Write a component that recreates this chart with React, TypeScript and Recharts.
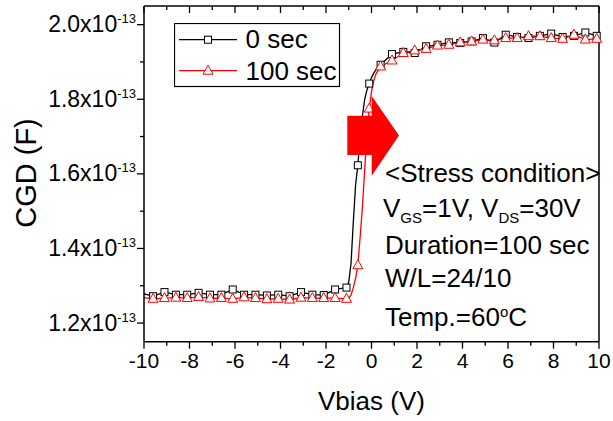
import { LineChart, Line, XAxis, YAxis, Legend } from 'recharts'

const FONT = '"Liberation Sans", Arial, sans-serif'

// Vbias (V); markers sit on the -9.6 + 0.5k grid, the rest only shape the line
const vbias = [
  -10, -9.6, -9.1, -8.6, -8.1, -7.6, -7.1, -6.6, -6.1, -5.6, -5.1, -4.6, -4.1, -3.6, -3.1, -2.6, -2.1, -1.6, -1.1,
  -1.0, -0.9, -0.8, -0.7, -0.6, -0.5, -0.4, -0.3, -0.2, -0.1, 0.0, 0.1, 0.2,
  0.4, 0.9, 1.4, 1.9, 2.4, 2.9, 3.4, 3.9, 4.4, 4.9, 5.4, 5.9, 6.4, 6.9, 7.4, 7.9, 8.4, 8.9, 9.4, 9.9,
]

// CGD in units of 1e-13 F
const cgd0 = [
  1.278, 1.272, 1.283, 1.276, 1.276, 1.281, 1.276, 1.276, 1.29, 1.276, 1.276, 1.274, 1.276, 1.272, 1.283, 1.276, 1.275, 1.29, 1.295,
  1.31, 1.36, 1.47, 1.57, 1.623, 1.7, 1.755, 1.8, 1.825, 1.842, 1.858, 1.87, 1.88,
  1.8925, 1.921, 1.927, 1.924, 1.942, 1.946, 1.9525, 1.951, 1.955, 1.964, 1.952, 1.973, 1.967, 1.964, 1.97, 1.976, 1.967, 1.97, 1.979, 1.97,
]

const cgd100 = [
  1.268, 1.265, 1.267, 1.268, 1.267, 1.27, 1.266, 1.267, 1.265, 1.269, 1.267, 1.264, 1.265, 1.263, 1.268, 1.267, 1.267, 1.267, 1.265,
  1.268, 1.275, 1.295, 1.32, 1.355, 1.43, 1.51, 1.61, 1.705, 1.775, 1.82, 1.85, 1.868,
  1.888, 1.904, 1.924, 1.931, 1.935, 1.944, 1.946, 1.9525, 1.955, 1.96, 1.958, 1.964, 1.964, 1.969, 1.969, 1.964, 1.962, 1.973, 1.96, 1.962,
]

const xTicks = [-10, -9, -8, -7, -6, -5, -4, -3, -2, -1, 0, 1, 2, 3, 4, 5, 6, 7, 8, 9, 10]
const yTicks = [1.2, 1.3, 1.4, 1.5, 1.6, 1.7, 1.8, 1.9, 2.0]

const rows = vbias.map((v, i) => ({ v, c0: cgd0[i], c100: cgd100[i] }))

const onGrid = (v: number) => {
  const k = (v + 9.6) * 2
  return Math.abs(k - Math.round(k)) < 1e-6
}

const SquareDot = (p: any) => {
  const { cx, cy, index, payload } = p
  if (!onGrid(payload.v)) return <g key={`s${index}`} />
  return <rect key={`s${index}`} x={cx - 3.5} y={cy - 3.5} width={7} height={7} fill="#fff" stroke="#000" strokeWidth={1} />
}

const TriDot = (p: any) => {
  const { cx, cy, index, payload } = p
  if (!onGrid(payload.v)) return <g key={`t${index}`} />
  return (
    <polygon
      key={`t${index}`}
      points={`${cx},${cy - 5.5} ${cx + 5},${cy + 3.5} ${cx - 5},${cy + 3.5}`}
      fill="#fff"
      stroke="#ff0000"
      strokeWidth={1}
    />
  )
}

const BottomTick = (p: any) => {
  const { x, y, payload } = p
  const major = Math.round(payload.value) % 2 === 0
  return (
    <g>
      <line x1={x} x2={x} y1={y} y2={y + (major ? 7 : 4)} stroke="#000" strokeWidth={1.3} />
      {major && (
        <text x={x} y={y + 26.5} textAnchor="middle" fontFamily={FONT} fontSize={21} fill="#000">
          {payload.value}
        </text>
      )}
    </g>
  )
}

const TopTick = (p: any) => {
  const { x, y, payload } = p
  const major = Math.round(payload.value) % 2 === 0
  return <line x1={x} x2={x} y1={y} y2={y + (major ? 7 : 4)} stroke="#000" strokeWidth={1.3} />
}

const LeftTick = (p: any) => {
  const { x, y, payload } = p
  const major = Math.round(payload.value * 10) % 2 === 0
  return (
    <g>
      <line x1={x} x2={x - (major ? 7 : 4)} y1={y} y2={y} stroke="#000" strokeWidth={1.3} />
      {major && (
        <text x={x - 8} y={y + 7.5} textAnchor="end" fontFamily={FONT} fontSize={23} fill="#000">
          {payload.value.toFixed(1)}x10
          <tspan fontSize={13} dy={-9}>-13</tspan>
        </text>
      )}
    </g>
  )
}

const RightTick = (p: any) => {
  const { x, y, payload } = p
  const major = Math.round(payload.value * 10) % 2 === 0
  return <line x1={x} x2={x - (major ? 7 : 4)} y1={y} y2={y} stroke="#000" strokeWidth={1.3} />
}

const YTitle = () => (
  <text
    x={26}
    y={173}
    transform="rotate(-90 26 173)"
    textAnchor="middle"
    dominantBaseline="central"
    fontFamily={FONT}
    fontSize={29}
    fill="#000"
  >
    CGD (F)
  </text>
)

const LegendBox = () => (
  <svg width={167} height={65} style={{ display: 'block' }}>
    <rect x={0.5} y={0.5} width={165} height={63} fill="#fff" stroke="#000" strokeWidth={1.2} />
    <line x1={5} x2={63} y1={16.7} y2={16.7} stroke="#000" strokeWidth={1.3} />
    <rect x={30.5} y={13.2} width={7} height={7} fill="#fff" stroke="#000" />
    <text x={71.5} y={25} fontFamily={FONT} fontSize={26} fill="#000">0 sec</text>
    <line x1={5} x2={63} y1={47.7} y2={47.7} stroke="#ff0000" strokeWidth={1.3} />
    <polygon points="34,42.2 39,51.2 29,51.2" fill="#fff" stroke="#ff0000" />
    <text x={71.5} y={56.7} fontFamily={FONT} fontSize={26} fill="#000">100 sec</text>
  </svg>
)

const axisStroke = { stroke: '#000', strokeWidth: 1.5 }

export default function App() {
  return (
    <div style={{ position: 'absolute', left: 0, top: 0, width: 613, height: 421, background: '#fff' }}>
      <LineChart width={613} height={421} data={rows} margin={{ top: 6, right: 14, left: 0, bottom: 0 }}>
        <XAxis
          type="number"
          dataKey="v"
          domain={[-10, 10]}
          ticks={xTicks}
          interval={0}
          height={79.3}
          tickSize={0}
          tickMargin={0}
          tickLine={false}
          axisLine={axisStroke}
          tick={<BottomTick />}
          label={{ value: 'Vbias (V)', position: 'insideBottom', offset: 11, fontFamily: FONT, fontSize: 26, fill: '#000' }}
        />
        <XAxis
          xAxisId="top"
          type="number"
          dataKey="v"
          orientation="top"
          mirror
          domain={[-10, 10]}
          ticks={xTicks}
          interval={0}
          tickSize={0}
          tickMargin={0}
          tickLine={false}
          axisLine={axisStroke}
          tick={<TopTick />}
        />
        <YAxis
          type="number"
          domain={[1.15, 2.05]}
          ticks={yTicks}
          interval={0}
          width={144}
          tickSize={0}
          tickMargin={0}
          tickLine={false}
          axisLine={axisStroke}
          tick={<LeftTick />}
          label={<YTitle />}
        />
        <YAxis
          yAxisId="right"
          type="number"
          orientation="right"
          mirror
          domain={[1.15, 2.05]}
          ticks={yTicks}
          interval={0}
          tickSize={0}
          tickMargin={0}
          tickLine={false}
          axisLine={axisStroke}
          tick={<RightTick />}
        />
        <Legend
          layout="horizontal"
          verticalAlign="middle"
          align="center"
          content={() => <LegendBox />}
          wrapperStyle={{ position: 'absolute', left: 174, top: 23, width: 167, height: 65 }}
        />
        <Line dataKey="c0" name="0 sec" type="linear" stroke="#000" strokeWidth={1.3} dot={SquareDot} isAnimationActive={false} />
        <Line dataKey="c100" name="100 sec" type="linear" stroke="#ff0000" strokeWidth={1.3} dot={TriDot} isAnimationActive={false} />
      </LineChart>
      <svg width={613} height={421} style={{ position: 'absolute', left: 0, top: 0, pointerEvents: 'none' }}>
        <polygon
          points="347.3,115.7 371.7,115.7 371.7,96 399,135.5 371.7,175.7 371.7,155 347.3,155"
          fill="#ff0000"
        />
        <g fontFamily={FONT} fontSize={26} fill="#000">
          <text x={385} y={181.7}>{'<Stress condition>'}</text>
          <text x={383} y={216.7}>
            V<tspan fontSize={15} dy={6}>GS</tspan>
            <tspan dy={-6}>=1V, V</tspan>
            <tspan fontSize={15} dy={6}>DS</tspan>
            <tspan dy={-6}>=30V</tspan>
          </text>
          <text x={385} y={254.3}>Duration=100 sec</text>
          <text x={385} y={286.7}>W/L=24/10</text>
          <text x={385} y={326}>
            Temp.=60<tspan fontSize={15} dy={-9}>o</tspan>
            <tspan dy={9}>C</tspan>
          </text>
        </g>
      </svg>
    </div>
  )
}
